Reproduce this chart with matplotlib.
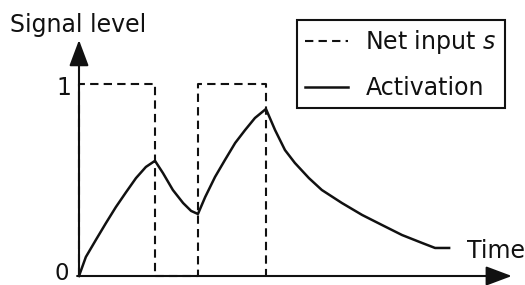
import matplotlib
matplotlib.use("Agg")
import matplotlib.pyplot as plt

# net input s: rectangular pulses (time units, level)
pulse_start = [0.0, 3.13]
pulse_end = [2.0, 4.92]
pulse_level = 1.0

# activation
act_t = [0.0, 0.18, 0.45, 0.71, 0.97, 1.24, 1.50, 1.76, 2.0,
         2.21, 2.47, 2.74, 2.95, 3.13,
         3.32, 3.58, 3.84, 4.11, 4.37, 4.63, 4.92,
         5.16, 5.42, 5.68, 6.05, 6.39, 6.92, 7.45, 7.97, 8.5, 9.03, 9.37, 9.74]
act_s = [0.0, 0.099, 0.19, 0.276, 0.359, 0.437, 0.51, 0.568, 0.60,
         0.536, 0.448, 0.38, 0.339, 0.323,
         0.411, 0.516, 0.604, 0.693, 0.76, 0.823, 0.87,
         0.76, 0.656, 0.589, 0.51, 0.448, 0.38, 0.318, 0.266, 0.2135, 0.172,
         0.146, 0.146]

ink = "#111111"
fs = 17

net_t, net_s = [], []
for a, b in zip(pulse_start, pulse_end):
    net_t += [a, a, b, b]
    net_s += [0, pulse_level, pulse_level, 0]

fig = plt.figure(figsize=(5.25, 2.85), dpi=100)
ax = fig.add_axes([0, 0, 1, 1])
ax.set_xlim(-79 / 38, (525 - 79) / 38)
ax.set_ylim((276 - 285) / 192, 276 / 192)
ax.axis("off")

net_line, = ax.plot(net_t, net_s, color=ink, lw=1.5, dashes=(4, 2.5),
                    label="Net input $s$", zorder=2)
act_line, = ax.plot(act_t, act_s, color=ink, lw=1.8, label="Activation",
                    zorder=3, solid_joinstyle="round")

# axes with arrow heads
arrow = dict(arrowstyle="-|>,head_length=0.8,head_width=0.3", lw=1.5,
             color=ink, mutation_scale=20, shrinkA=0, shrinkB=0)
ax.annotate("", xy=(11.39, 0), xytext=(-0.05, 0), arrowprops=arrow, zorder=4)
ax.annotate("", xy=(0, 1.229), xytext=(0, 0), arrowprops=arrow, zorder=4)

ax.text(-1.82, 1.27, "Signal level", fontsize=fs, color=ink, va="baseline")
ax.text(10.21, 0.094, "Time", fontsize=fs, color=ink, va="baseline")
ax.text(-0.45, (276 - 285) / 192, "0", fontsize=16.5, color=ink,
        ha="center", va="bottom")
ax.text(-0.39, 0.98, "1", fontsize=fs, color=ink, ha="center", va="center")

leg = ax.legend(handles=[net_line, act_line], loc="upper left",
                bbox_to_anchor=(297 / 525, 1 - 20 / 285),
                bbox_transform=fig.transFigure, borderaxespad=0,
                fontsize=fs, frameon=True, fancybox=False, framealpha=1,
                edgecolor=ink, handlelength=1.8, handletextpad=0.76,
                borderpad=0.34, labelspacing=0.85)
leg.get_frame().set_linewidth(1.5)
for t in leg.get_texts():
    t.set_color(ink)

fig.savefig("out.png", dpi=100, facecolor="white")
